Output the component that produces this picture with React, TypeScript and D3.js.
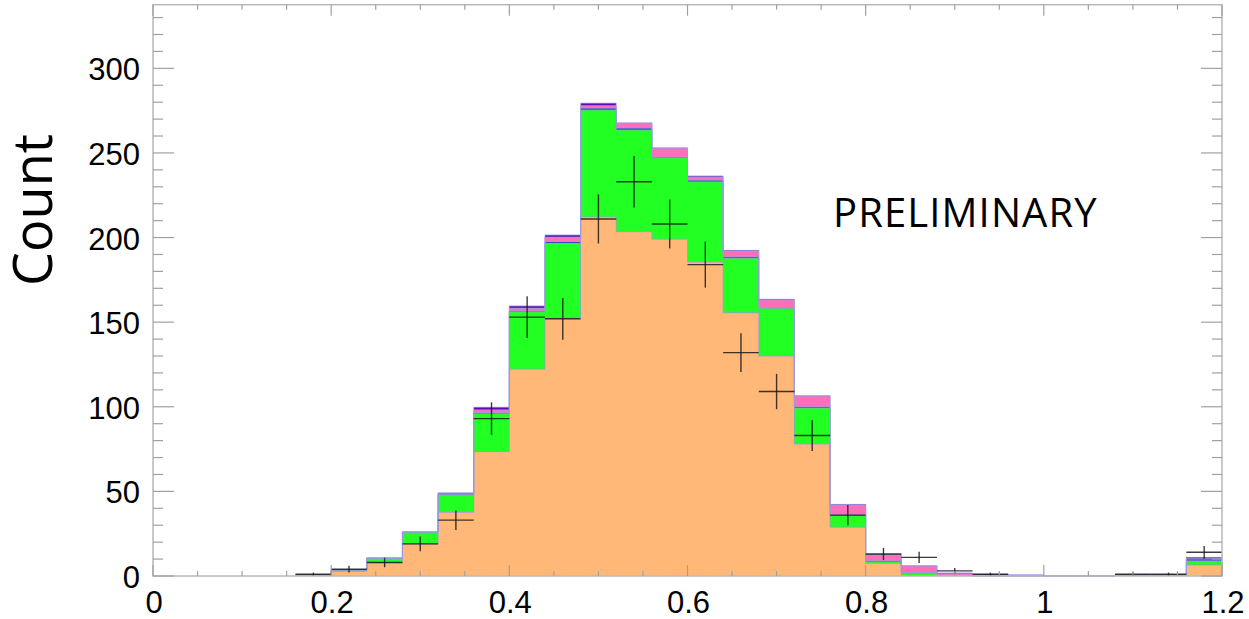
import React from "react";
import * as d3 from "d3";

// Lower edges of the histogram bins (width 0.04)
const binLow = [
  0.16, 0.2, 0.24, 0.28, 0.32, 0.36, 0.4, 0.44, 0.48, 0.52, 0.56, 0.6, 0.64,
  0.68, 0.72, 0.76, 0.8, 0.84, 0.88, 0.92, 0.96, 1.0, 1.04, 1.08, 1.12, 1.16,
];
const binWidth = 0.04;

// Stacked MC components (bottom to top)
const orangeComp = [
  0.6, 2.7, 7.9, 18.9, 37.6, 73.5, 122.2, 152.6, 212.2, 203.5, 199, 185.5, 155.6,
  130, 78, 28.8, 7.5, 0.3, 0.2, 0, 0, 0, 0, 0.5, 0.3, 6.5,
];
const greenComp = [
  0, 0.8, 2.7, 7.1, 10.3, 22.5, 34.0, 44.0, 63.2, 60.1, 48.2, 47.5, 32.2,
  28.2, 21.3, 6.9, 1.2, 1.5, 0.2, 0, 0, 0, 0, 0, 0, 2.5,
];
const blueComp = [
  0, 0, 0, 0, 0.3, 0.5, 0.4, 1.0, 1.0, 1.0, 0.3, 0.8, 0.8,
  0.4, 0.8, 0.4, 0.2, 0.2, 0, 0.2, 0.5, 0, 0, 0.2, 0.4, 1.0,
];
const pinkComp = [
  0, 0, 0, 0, 0.5, 1.7, 1.6, 2.6, 1.6, 2.9, 5.2, 2.0, 3.5,
  4.6, 6.3, 6.0, 3.7, 4.0, 1.2, 0.4, 0, 0, 0, 0, 0, 0.2,
];
const purpleComp = [
  0, 0, 0, 0, 0.5, 1.5, 1.4, 1.3, 1.4, 0.3, 0.4, 0.6, 0.3,
  0.3, 0.2, 0.2, 0.2, 0.1, 0.1, 0.4, 0, 0.2, 0.2, 0, 0, 0.8,
];
// Observed data counts
const dataCounts = [
  1, 4, 8, 19, 33, 93, 153, 152, 211, 233, 208, 184, 132,
  109, 83, 36, 13, 11, 3, 1, 0, 0, 0, 1, 1, 14,
];

const xTickValues = [0, 0.2, 0.4, 0.6, 0.8, 1.0, 1.2];
const xTickLabels = ["0", "0.2", "0.4", "0.6", "0.8", "1", "1.2"];
const yTickValues = [0, 50, 100, 150, 200, 250, 300];
const yTickLabels = ["0", "50", "100", "150", "200", "250", "300"];

const layerKeys = ["orange", "green", "blue", "pink", "purple"];
const layerColors: Record<string, string> = {
  orange: "#FFB878",
  green: "#22FF22",
  blue: "#2430C8",
  pink: "#FF6EB8",
  purple: "#5A0FB0",
};

const W = 1249;
const H = 619;
const left = 153;
const right = 1222;
const top = 4.7;
const bottom = 576;

export default function App() {
  const x = d3.scaleLinear().domain([0, 1.2]).range([left, right]);
  const y = d3.scaleLinear().domain([0, 337.6]).range([bottom, top]);

  const rows = binLow.map((lo, i) => ({
    lo,
    orange: orangeComp[i],
    green: greenComp[i],
    blue: blueComp[i],
    pink: pinkComp[i],
    purple: purpleComp[i],
  }));
  const stacked = d3.stack<any>().keys(layerKeys)(rows);

  // step outline of a cumulative level
  const outline = (vals: number[]) => {
    let p = "";
    vals.forEach((v, i) => {
      const x0 = x(binLow[i]);
      const x1 = x(binLow[i] + binWidth);
      const yy = y(v);
      if (i === 0) p += `M${x0},${y(0)}L${x0},${yy}`;
      else p += `L${x0},${yy}`;
      p += `L${x1},${yy}`;
    });
    const last = binLow[binLow.length - 1] + binWidth;
    p += `L${x(last)},${y(0)}`;
    return p;
  };

  const yMinor = d3.range(0, 340, 10);
  const xMinor = d3.range(0, 1.2001, 0.05);

  return (
    <svg
      width={W}
      height={H}
      style={{ position: "absolute", left: 0, top: 0, background: "#fff" }}
    >
      {/* stacked fills */}
      {stacked.map((layer) => (
        <g key={layer.key}>
          {layer.map((d, i) =>
            d[1] - d[0] > 0 ? (
              <rect
                key={i}
                x={x(binLow[i])}
                width={x(binLow[i] + binWidth) - x(binLow[i])}
                y={y(d[1])}
                height={Math.max(0.6, y(d[0]) - y(d[1]))}
                fill={layerColors[layer.key]}
                shapeRendering="crispEdges"
              />
            ) : null
          )}
        </g>
      ))}
      {/* outlines */}
      {stacked.map((layer) => (
        <path
          key={"o" + layer.key}
          d={outline(layer.map((d) => d[1]))}
          fill="none"
          stroke="#9A9AE0"
          strokeWidth={1}
          strokeOpacity={0.8}
        />
      ))}

      {/* data points with error bars */}
      <g stroke="#1a1a1a" strokeWidth={1.4} strokeOpacity={0.85}>
        {dataCounts.map((n, i) => {
          if (n <= 0) return null;
          const cx = x(binLow[i] + binWidth / 2);
          const err = Math.sqrt(n);
          return (
            <g key={i}>
              <line x1={x(binLow[i])} x2={x(binLow[i] + binWidth)} y1={y(n)} y2={y(n)} />
              <line x1={cx} x2={cx} y1={y(n + err)} y2={y(Math.max(0, n - err))} />
            </g>
          );
        })}
      </g>

      {/* frame */}
      <rect
        x={left}
        y={top}
        width={right - left}
        height={bottom - top}
        fill="none"
        stroke="#B8B8B8"
        strokeWidth={1.5}
      />
      {/* ticks */}
      <g stroke="#A0A0A0" strokeWidth={1.2}>
        {yMinor.map((v) => {
          const major = v % 50 === 0;
          const len = major ? 21 : 10;
          return (
            <g key={"y" + v}>
              <line x1={left} x2={left + len} y1={y(v)} y2={y(v)} />
              <line x1={right} x2={right - len} y1={y(v)} y2={y(v)} />
            </g>
          );
        })}
        {xMinor.map((v, i) => {
          const major = i % 4 === 0;
          const len = major ? 11 : 5;
          return (
            <g key={"x" + i}>
              <line x1={x(v)} x2={x(v)} y1={bottom} y2={bottom - len} />
              <line x1={x(v)} x2={x(v)} y1={top} y2={top + len} />
            </g>
          );
        })}
      </g>

      {/* tick labels */}
      <g fontFamily="'Liberation Sans', Arial, Helvetica, sans-serif" fontSize={31} fill="#000">
        {yTickValues.map((v, i) => (
          <text key={"yl" + v} x={140} y={y(v) + 12} textAnchor="end">
            {yTickLabels[i]}
          </text>
        ))}
        {xTickValues.map((v, i) => (
          <text key={"xl" + v} x={x(v) + 1} y={613} textAnchor="middle">
            {xTickLabels[i]}
          </text>
        ))}
      </g>

      {/* axis title */}
      <text
        transform="translate(52,210) rotate(-90)"
        textAnchor="middle"
        fontFamily="'Open Sans', sans-serif"
        fontSize={54}
        fill="#000"
      >
        Count
      </text>

      <text
        x={833}
        y={226.5}
        fontFamily="'Open Sans', sans-serif"
        fontSize={40}
        letterSpacing={1.1}
        fill="#000"
      >
        PRELIMINARY
      </text>
    </svg>
  );
}
